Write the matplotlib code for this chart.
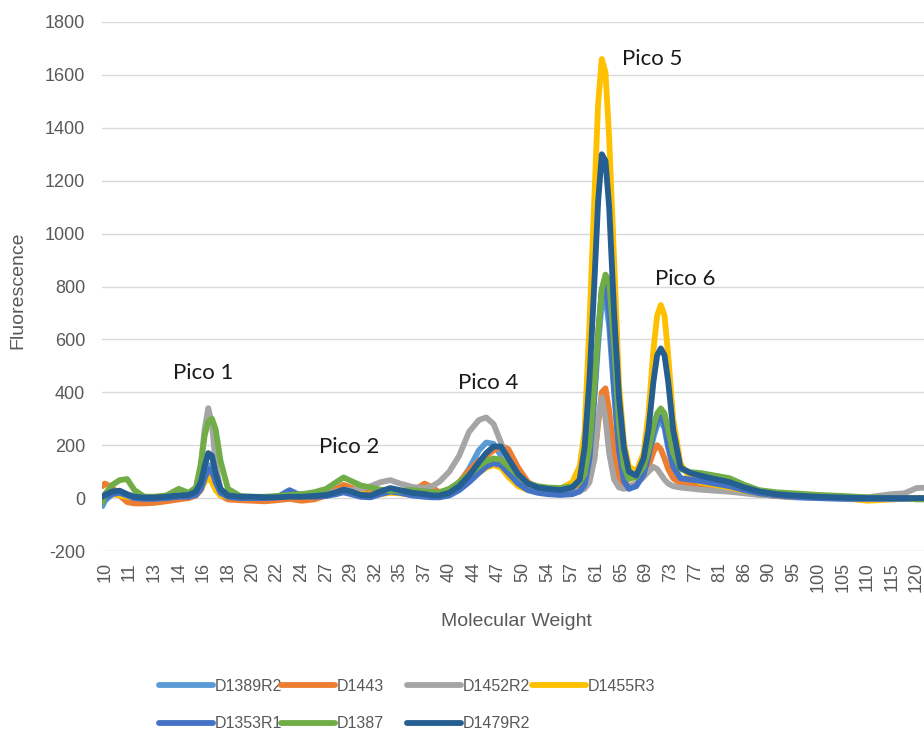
import matplotlib.pyplot as plt
from matplotlib.lines import Line2D

plt.rcParams["axes.unicode_minus"] = False

# positions along the category axis (in units of the printed tick labels)
x_pos = [-0.1, 0.0, 0.3, 0.6, 0.9, 1.2, 1.6, 2.0, 2.5, 3.0,
         3.4, 3.7, 3.9, 4.05, 4.2, 4.35, 4.5, 4.7, 5.0, 5.5,
         6.0, 6.5, 7.0, 7.5, 8.0, 8.5, 9.0, 9.4, 9.7, 10.0,
         10.4, 10.8, 11.2, 11.6, 12.0, 12.5, 13.0, 13.3, 13.6, 14.0,
         14.4, 14.8, 15.2, 15.5, 15.8, 16.1, 16.4, 16.8, 17.2, 17.6,
         18.0, 18.5, 19.0, 19.3, 19.5, 19.7, 19.9, 20.05, 20.2, 20.35,
         20.5, 20.7, 20.9, 21.1, 21.3, 21.6, 21.9, 22.1, 22.3, 22.45,
         22.6, 22.75, 22.9, 23.1, 23.4, 23.8, 24.2, 24.8, 25.4, 26.0,
         26.6, 27.3, 28.0, 29.0, 30.0, 31.0, 32.0, 32.5, 33.0, 33.5]

x_labels = ["10", "11", "13", "14", "16", "18", "20", "22", "24", "27",
            "29", "32", "35", "37", "40", "44", "47", "50", "54", "57",
            "61", "65", "69", "73", "77", "81", "86", "90", "95", "100",
            "105", "110", "115", "120"]

d1389r2 = [-30, -10, 15, 20, 12, 3, 0, 0, 3, 8,
           8, 15, 40, 85, 125, 120, 70, 25, 8, 3,
           3, 3, 5, 8, 8, 8, 12, 20, 25, 20,
           10, 8, 18, 30, 22, 12, 8, 5, 5, 18,
           55, 110, 180, 210, 205, 160, 110, 60, 35, 25,
           20, 18, 22, 35, 60, 160, 380, 580, 740, 760,
           650, 400, 170, 65, 40, 50, 90, 150, 230, 275,
           290, 265, 190, 115, 70, 65, 60, 50, 40, 28,
           15, 8, 3, 0, 0, -2, -2, -2, -2, -2]

d1443 = [45, 55, 40, 10, -15, -20, -20, -18, -12, -5,
         0, 10, 30, 65, 95, 90, 50, 10, -5, -8,
         -10, -12, -8, -3, -10, -5, 10, 35, 50, 40,
         25, 18, 20, 30, 25, 25, 55, 40, 22, 30,
         60, 105, 140, 160, 180, 198, 185, 115, 60, 40,
         30, 28, 30, 35, 45, 70, 150, 280, 400, 415,
         330, 170, 80, 50, 45, 55, 80, 120, 175, 200,
         185, 150, 110, 75, 55, 50, 45, 40, 32, 25,
         15, 8, 5, 3, 0, 0, 0, 0, 0, 0]

d1452r2 = [0, 10, 20, 20, 10, 5, 3, 3, 5, 10,
           15, 35, 120, 260, 340, 280, 130, 30, 8, 5,
           3, 3, 5, 12, 15, 15, 18, 25, 30, 30,
           35, 45, 60, 68, 55, 42, 38, 45, 62, 100,
           160, 250, 295, 305, 280, 210, 130, 70, 40, 32,
           28, 25, 25, 28, 35, 60, 150, 300, 380, 300,
           170, 70, 40, 35, 40, 55, 80, 100, 118, 110,
           90, 70, 55, 45, 40, 36, 32, 28, 24, 18,
           12, 10, 8, 5, 3, 3, 15, 18, 38, 40]

d1455r3 = [0, 10, 15, 10, 5, 5, 5, 5, 5, 8,
           10, 18, 35, 60, 75, 60, 30, 10, 5, 5,
           3, 3, 5, 5, 8, 10, 12, 18, 25, 22,
           15, 12, 15, 20, 18, 12, 10, 8, 10, 20,
           40, 65, 95, 115, 125, 115, 80, 45, 30, 25,
           25, 35, 60, 120, 250, 660, 1140, 1490, 1660, 1610,
           1360, 900, 430, 210, 120, 100, 170, 320, 560, 690,
           730, 690, 540, 300, 130, 75, 60, 50, 40, 28,
           18, 10, 5, 2, 0, -10, -5, -3, 0, 0]

d1353r1 = [-15, 0, 15, 20, 10, 0, -3, -3, 0, 5,
           5, 12, 35, 75, 110, 105, 60, 20, 5, 0,
           0, 0, 3, 30, 8, 5, 8, 15, 22, 15,
           5, 3, 15, 25, 20, 10, 5, 3, 3, 10,
           30, 60, 95, 120, 132, 125, 95, 55, 30, 20,
           15, 12, 15, 25, 50, 150, 400, 620, 790, 800,
           700, 420, 180, 65, 35, 45, 90, 160, 250, 295,
           307, 280, 200, 120, 75, 70, 65, 55, 45, 30,
           18, 10, 5, 0, -3, -3, -3, -3, -3, -3]

d1387 = [-15, 15, 50, 68, 72, 30, 5, 5, 10, 35,
         20, 40, 130, 235, 290, 300, 260, 140, 35, 8,
         5, 5, 8, 12, 15, 22, 35, 60, 78, 65,
         48, 40, 32, 28, 28, 30, 25, 22, 22, 35,
         60, 90, 120, 140, 150, 145, 120, 85, 55, 45,
         40, 38, 45, 60, 90, 200, 430, 620, 790, 845,
         820, 580, 280, 120, 72, 80, 120, 180, 270, 320,
         339, 320, 260, 170, 110, 98, 95, 85, 75, 50,
         30, 22, 18, 12, 8, 3, 0, 0, -5, -5]

d1479r2 = [5, 12, 25, 28, 15, 5, 2, 2, 5, 10,
           12, 25, 60, 120, 170, 160, 95, 35, 10, 5,
           5, 3, 3, 5, 5, 8, 12, 22, 32, 25,
           12, 10, 25, 38, 30, 20, 15, 10, 10, 20,
           45, 85, 135, 170, 195, 195, 150, 90, 55, 40,
           35, 30, 40, 70, 190, 450, 820, 1120, 1300, 1275,
           1100, 700, 380, 190, 100, 85, 150, 260, 440, 540,
           566, 540, 440, 260, 115, 95, 85, 72, 60, 40,
           25, 15, 10, 5, 2, 0, 0, 0, 0, 0]

series = [
    ("D1389R2", d1389r2, "#5B9BD5"),
    ("D1443", d1443, "#ED7D31"),
    ("D1452R2", d1452r2, "#A5A5A5"),
    ("D1455R3", d1455r3, "#FFC000"),
    ("D1353R1", d1353r1, "#4472C4"),
    ("D1387", d1387, "#70AD47"),
    ("D1479R2", d1479r2, "#255E91"),
]

peaks = [("Pico 1", 3.98, 472), ("Pico 2", 9.92, 193), ("Pico 4", 15.6, 435),
         ("Pico 5", 22.24, 1659), ("Pico 6", 23.6, 828)]

TXT = "#595959"
W, H = 924, 738
LW = 4.2

fig = plt.figure(figsize=(W / 100, H / 100), dpi=100)
ax = fig.add_axes([102 / W, 1 - 551 / H, (W - 102) / W, 529 / H])

colors = {}
for name, vals, color in series:
    ax.plot(x_pos, vals, color=color, lw=LW,
            solid_capstyle="round", solid_joinstyle="round")
    colors[name] = color

ax.set_xlim(-0.12, 33.3)
ax.set_ylim(-200, 1800)
ax.set_yticks(range(-200, 1801, 200))
ax.set_xticks(range(len(x_labels)))
ax.set_xticklabels(x_labels, rotation=90)
ax.grid(axis="y", color="#D9D9D9", lw=1.0)
ax.set_axisbelow(True)
for s in ax.spines.values():
    s.set_visible(False)
ax.tick_params(length=0, labelsize=13, colors=TXT, labelfontfamily="Liberation Sans")
ax.tick_params(axis="y", pad=12)
ax.tick_params(axis="x", pad=8)

fig.text(18 / W, 1 - 290 / H, "Fluorescence", rotation=90, ha="center", va="center",
         fontsize=14, color=TXT, family="Liberation Sans")
fig.text(516 / W, 1 - 621 / H, "Molecular Weight", ha="center", va="center",
         fontsize=14, color=TXT, family="Liberation Sans")

for label, px, py in peaks:
    ax.text(px, py, label, ha="center", va="center", fontsize=16,
            color="#1a1a1a", family="Lato")

# legend laid out in four columns, like the original
columns = [["D1389R2", "D1353R1"], ["D1443", "D1387"], ["D1452R2", "D1479R2"], ["D1455R3"]]
col_x = [159, 281, 407, 532]
for names, cx in zip(columns, col_x):
    hs = [Line2D([], [], color=colors[n], lw=LW, solid_capstyle="round") for n in names]
    fig.legend(hs, names, loc="upper left", bbox_to_anchor=(cx / W, 1 - 679 / H),
               frameon=False, borderpad=0, borderaxespad=0, handlelength=3.4,
               handletextpad=0.1, labelspacing=1.4,
               prop={"family": "Liberation Sans", "size": 11.5}, labelcolor=TXT)

fig.savefig("out.png", dpi=100)
